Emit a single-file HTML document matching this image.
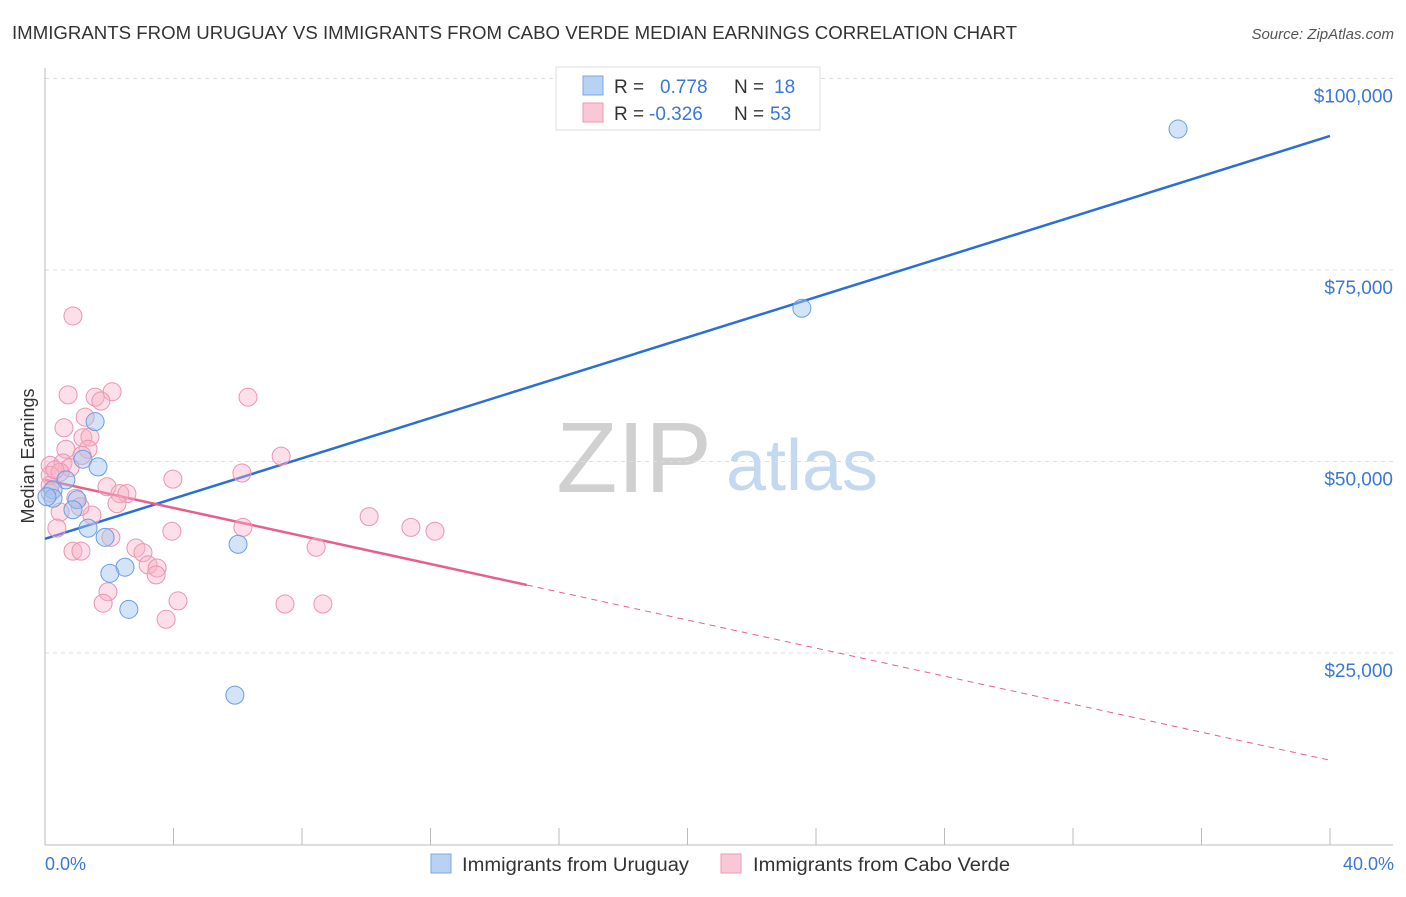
<!DOCTYPE html>
<html><head><meta charset="utf-8"><style>
body{margin:0;background:#fff;font-family:"Liberation Sans",sans-serif;}
svg text{font-family:"Liberation Sans",sans-serif;}
</style></head><body>
<svg id="chart" width="1406" height="892" viewBox="0 0 1406 892">
<text x="12" y="39" font-size="18" fill="#333" textLength="1005" lengthAdjust="spacingAndGlyphs">IMMIGRANTS FROM URUGUAY VS IMMIGRANTS FROM CABO VERDE MEDIAN EARNINGS CORRELATION CHART</text>
<text x="1394" y="39" font-size="15" fill="#555" text-anchor="end" font-style="italic">Source: ZipAtlas.com</text>
<g>
<text x="634" y="492" font-size="100" fill="#d0d0d0" text-anchor="middle" font-family="Liberation Serif, serif">ZIP</text>
<text x="802" y="490" font-size="72" fill="#c4d8f0" text-anchor="middle">atlas</text>
</g>
<g id="grid"></g>
<g id="axes"></g>
<g id="lines"></g>
<g id="points"></g>
<text transform="translate(34,456) rotate(-90)" font-size="18" fill="#333" text-anchor="middle">Median Earnings</text>
<text x="45" y="870" font-size="18" fill="#3a78d8">0.0%</text>
<text x="1394" y="870" font-size="18" fill="#3a78d8" text-anchor="end">40.0%</text>
<g>
<rect x="556" y="67" width="264" height="63" fill="#fff" stroke="#ddd"/>
<rect x="583" y="76" width="20" height="19" fill="#b8d2f4" stroke="#7aa8e4"/>
<rect x="583" y="103" width="20" height="19" fill="#f9c8d6" stroke="#ec9ab4"/>
<text x="614" y="93" font-size="19" fill="#333">R =</text>
<text x="660" y="93" font-size="19" fill="#3a78d8">0.778</text>
<text x="734" y="93" font-size="19" fill="#333">N =</text>
<text x="774" y="93" font-size="19" fill="#3a78d8">18</text>
<text x="614" y="120" font-size="19" fill="#333">R =</text>
<text x="649" y="120" font-size="19" fill="#3a78d8">-0.326</text>
<text x="734" y="120" font-size="19" fill="#333">N =</text>
<text x="770" y="120" font-size="19" fill="#3a78d8">53</text>
</g>
<g>
<rect x="431" y="854" width="20" height="19" fill="#b8d2f4" stroke="#7aa8e4"/>
<text x="462" y="871" font-size="19" fill="#333" textLength="227" lengthAdjust="spacingAndGlyphs">Immigrants from Uruguay</text>
<rect x="721" y="854" width="20" height="19" fill="#f9c8d6" stroke="#ec9ab4"/>
<text x="753" y="871" font-size="19" fill="#333" textLength="257" lengthAdjust="spacingAndGlyphs">Immigrants from Cabo Verde</text>
</g>
</svg>
<script>
const yTicks=[25000,50000,75000,100000];
const yTickLabels=["$25,000","$50,000","$75,000","$100,000"];
const xTicks=[0,4,8,12,16,20,24,28,32,36,40];
const uruguayX=[1.56,1.18,1.65,0.65,0.25,0.25,1.00,0.87,1.34,1.87,6.01,2.49,2.02,2.61,5.91,23.56,35.27,0.06];
const uruguayY=[55200,50300,49300,47600,46300,45200,45000,43700,41300,40100,39200,36200,35400,30700,19500,70000,93400,45400];
const caboX=[0.87,0.72,1.56,2.09,1.74,6.32,1.25,0.59,1.18,1.40,0.65,1.34,7.35,1.15,0.16,0.56,0.78,6.13,3.98,0.16,0.47,1.93,2.33,2.55,2.24,0.16,0.96,0.47,1.46,0.37,3.95,6.16,2.05,0.87,1.12,2.83,3.05,3.21,3.49,3.46,8.44,1.96,1.81,4.14,3.77,7.47,8.65,10.09,11.39,12.14,0.16,1.09,0.31];
const caboY=[69000,58700,58400,59100,57900,58400,55800,54400,53100,53200,51600,51600,50700,50800,49500,49800,49200,48500,47700,48200,48600,46700,45800,45800,44500,45900,45200,43400,43000,41300,40900,41400,40100,38300,38300,38700,38100,36500,36100,35200,38800,33000,31500,31800,29400,31400,31400,42800,41400,40900,46900,44100,48900];
const uruguayTrend=[39900,92500];
const caboTrend=[47600,11000];
const caboSolidEnd=15.0;

const NS="http://www.w3.org/2000/svg";
const sx=v=>45+v/40*1285;
const sy=v=>653-(v-25000)/25000*191.5;
function mk(tag,attrs,parent){const e=document.createElementNS(NS,tag);for(const k in attrs)e.setAttribute(k,attrs[k]);document.getElementById(parent).appendChild(e);return e;}
yTicks.forEach((t,i)=>{
 const l=mk('line',{x1:45,x2:1393,y1:sy(t),y2:sy(t),stroke:'#ddd','stroke-dasharray':'4,4'},'grid');
 
 
 const tx=mk('text',{x:1393,y:sy(t)+24,'font-size':19,fill:'#3a78d8','text-anchor':'end'},'grid');
 tx.textContent=yTickLabels[i];
 
 
});
const ax=mk('line',{x1:45,x2:1393,y1:845,y2:845,stroke:'#bbb'},'axes');


const ay=mk('line',{x1:45,x2:45,y1:68,y2:845,stroke:'#bbb'},'axes');


xTicks.forEach(t=>{
 const l=mk('line',{x1:sx(t),x2:sx(t),y1:828,y2:845,stroke:'#bbb'},'axes');
 
 
});
const bl=mk('line',{x1:sx(0),y1:sy(uruguayTrend[0]),x2:sx(40),y2:sy(uruguayTrend[1]),stroke:'#2a6fd6','stroke-width':2.5},'lines');


const pv=x=>caboTrend[0]+(caboTrend[1]-caboTrend[0])*x/40;
const pl=mk('line',{x1:sx(0),y1:sy(caboTrend[0]),x2:sx(caboSolidEnd),y2:sy(pv(caboSolidEnd)),stroke:'#e8608a','stroke-width':2.5},'lines');


const pd=mk('line',{x1:sx(caboSolidEnd),y1:sy(pv(caboSolidEnd)),x2:sx(40),y2:sy(caboTrend[1]),stroke:'#e8608a','stroke-width':1,'stroke-dasharray':'6,5'},'lines');


caboX.forEach((x,i)=>{
 const c=mk('circle',{cx:sx(x),cy:sy(caboY[i]),r:9,fill:'rgba(248,175,198,0.4)',stroke:'#ec94b0','stroke-width':1},'points');
 
 
});
uruguayX.forEach((x,i)=>{
 const c=mk('circle',{cx:sx(x),cy:sy(uruguayY[i]),r:9,fill:'rgba(160,196,240,0.45)',stroke:'#6a9ee2','stroke-width':1},'points');
 
 
});
</script>
</body></html>
